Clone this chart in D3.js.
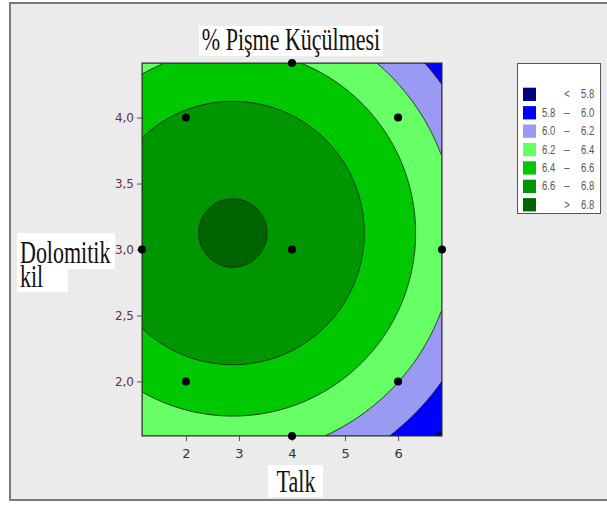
<!DOCTYPE html>
<html>
<head>
<meta charset="utf-8">
<script src="https://cdn.jsdelivr.net/npm/d3@7"></script>
<style>
  html, body { margin: 0; padding: 0; background: #fff; }
  svg { display: block; }
</style>
</head>
<body>
<div id="chart"></div>
<script>
// design points (Talk, Dolomitik kil)
const talkPoints = [2, 2, 6, 6, 4, 1.172, 6.828, 4, 4];
const kilPoints  = [2, 4, 2, 4, 3, 3, 3, 1.586, 4.414];

const talkDomain = [1.172, 6.828];
const kilDomain  = [1.586, 4.414];
const talkTicks  = [2, 3, 4, 5, 6];
const kilTicks   = [2.0, 2.5, 3.0, 3.5, 4.0];

// contour levels and band colours (lowest band first)
const levels     = [5.8, 6.0, 6.2, 6.4, 6.6, 6.8];
const bandColors = ['#000080', '#0000ff', '#9a9af5', '#66ff66', '#00c800', '#009600', '#006400'];
const legendLow  = ['', '5.8', '6.0', '6.2', '6.4', '6.6', ''];
const legendSym  = ['<', '–', '–', '–', '–', '–', '>'];
const legendHigh = ['5.8', '6.0', '6.2', '6.4', '6.6', '6.8', '6.8'];

// fitted response surface: peak position, peak value, curvature
const peakAt    = [2.884, 3.125];
const peakValue = 6.8145;
const curvature = [0.0349, 0.2152];

const W = 607, H = 506;
const svg = d3.select('#chart').append('svg')
    .attr('width', W)
    .attr('height', H);

svg.append('rect').attr('width', W).attr('height', H).attr('fill', '#fff');
svg.append('rect')
    .attr('x', 10).attr('y', 3)
    .attr('width', W + 10).attr('height', 497)
    .attr('fill', '#ebebeb')
    .attr('stroke', '#7a7a7a')
    .attr('stroke-width', 2);

const plot = { left: 142, top: 63, width: 300, height: 373 };

const x = d3.scaleLinear().domain(talkDomain).range([plot.left, plot.left + plot.width]);
const y = d3.scaleLinear().domain(kilDomain).range([plot.top + plot.height, plot.top]);

const surface = (t, k) => peakValue
    - curvature[0] * (t - peakAt[0]) ** 2
    - curvature[1] * (k - peakAt[1]) ** 2;

// sample the surface on a grid laid over the plot area
const nx = 150, ny = 186;
const cw = plot.width / nx, ch = plot.height / ny;
const grid = new Array(nx * ny);
for (let j = 0; j < ny; j++) {
    for (let i = 0; i < nx; i++) {
        grid[j * nx + i] = surface(x.invert(plot.left + (i + 0.5) * cw),
                                   y.invert(plot.top + (j + 0.5) * ch));
    }
}

const contours = d3.contours().size([nx, ny]).thresholds(levels)(grid);
const path = d3.geoPath(d3.geoTransform({
    point(px, py) { this.stream.point(plot.left + px * cw, plot.top + py * ch); }
}));

svg.append('clipPath').attr('id', 'plot-clip')
    .append('rect')
    .attr('x', plot.left).attr('y', plot.top)
    .attr('width', plot.width).attr('height', plot.height);

const area = svg.append('g').attr('clip-path', 'url(#plot-clip)');

area.append('rect')
    .attr('x', plot.left).attr('y', plot.top)
    .attr('width', plot.width).attr('height', plot.height)
    .attr('fill', bandColors[0]);

area.selectAll('path.band')
    .data(contours)
    .enter()
      .append('path')
      .attr('class', 'band')
      .attr('d', path)
      .attr('fill', (d, i) => bandColors[i + 1])
      .attr('stroke', '#1c2a1c')
      .attr('stroke-width', 0.9);

svg.append('rect')
    .attr('x', plot.left).attr('y', plot.top)
    .attr('width', plot.width).attr('height', plot.height)
    .attr('fill', 'none')
    .attr('stroke', '#2a2a2a')
    .attr('stroke-width', 1);

// axes
const xAxis = d3.axisBottom(x)
    .tickValues(talkTicks)
    .tickSize(5)
    .tickPadding(8)
    .tickFormat(d3.format('d'));

const yAxis = d3.axisLeft(y)
    .tickValues(kilTicks)
    .tickSize(5)
    .tickPadding(3)
    .tickFormat(d => d3.format('.1f')(d).replace('.', ','));

const gx = svg.append('g')
    .attr('transform', 'translate(0,' + (plot.top + plot.height) + ')')
    .call(xAxis);
gx.select('.domain').remove();
gx.selectAll('line').attr('stroke', '#555');
gx.selectAll('text')
    .attr('fill', '#333')
    .style('font-family', 'DejaVu Sans')
    .style('font-size', '13px');

const gy = svg.append('g')
    .attr('transform', 'translate(' + plot.left + ',0)')
    .call(yAxis);
gy.select('.domain').remove();
gy.selectAll('line').attr('stroke', '#555');
gy.selectAll('text')
    .attr('fill', '#6e2b48')
    .style('font-family', 'DejaVu Sans')
    .style('font-size', '12px');

// design points
svg.selectAll('.dot')
    .data(talkPoints)
    .enter()
      .append('circle')
      .attr('class', 'dot')
      .attr('cx', d => x(d))
      .attr('cy', (d, i) => y(kilPoints[i]))
      .attr('r', 4)
      .attr('fill', '#000');

// serif labels sit on white boxes, stretched vertically like the source
function whiteBox(box) {
    svg.append('rect')
        .attr('x', box[0]).attr('y', box[1])
        .attr('width', box[2] - box[0]).attr('height', box[3] - box[1])
        .attr('fill', '#fff');
}

function serifLabel(lines, tx, ty, anchor) {
    const t = svg.append('text')
        .attr('transform', 'translate(' + tx + ',' + ty + ') scale(1,1.4)')
        .attr('text-anchor', anchor)
        .attr('font-family', 'Liberation Serif, Times New Roman, serif')
        .attr('font-size', '22px')
        .attr('fill', '#111');
    lines.forEach((s, i) => {
        t.append('tspan')
            .attr('x', 0)
            .attr('dy', i === 0 ? 0 : 17)
            .text(s);
    });
}

whiteBox([199, 26, 383, 56]);
serifLabel(['% Pişme Küçülmesi'], 291, 50, 'middle');

whiteBox([268, 465, 323, 497]);
serifLabel(['Talk'], 296, 492, 'middle');

whiteBox([17, 233, 115, 269]);
whiteBox([17, 269, 68, 292]);
serifLabel(['Dolomitik', 'kil'], 20, 263, 'start');

// legend
const legend = svg.append('g');
legend.append('rect')
    .attr('x', 517.5).attr('y', 63.5)
    .attr('width', 83).attr('height', 150)
    .attr('fill', '#fff')
    .attr('stroke', '#555')
    .attr('stroke-width', 1);

const rows = legend.selectAll('.legend-row')
    .data(bandColors)
    .enter()
      .append('g')
      .attr('class', 'legend-row')
      .attr('transform', (d, i) => 'translate(0,' + (87.7 + i * 18.4) + ')');

rows.append('rect')
    .attr('x', 523).attr('y', 0)
    .attr('width', 13).attr('height', 13.3)
    .attr('fill', d => d);

function legendText(sel, xpos, anchor, fn) {
    sel.append('text')
        .attr('transform', 'translate(' + xpos + ',10.6) scale(1,1.25)')
        .attr('text-anchor', anchor)
        .attr('font-family', 'Liberation Sans, Arial, sans-serif')
        .attr('font-size', '9.5px')
        .attr('fill', '#555')
        .text(fn);
}
legendText(rows, 542, 'start', (d, i) => legendLow[i]);
legendText(rows, 567, 'middle', (d, i) => legendSym[i]);
legendText(rows, 581, 'start', (d, i) => legendHigh[i]);
</script>
</body>
</html>
